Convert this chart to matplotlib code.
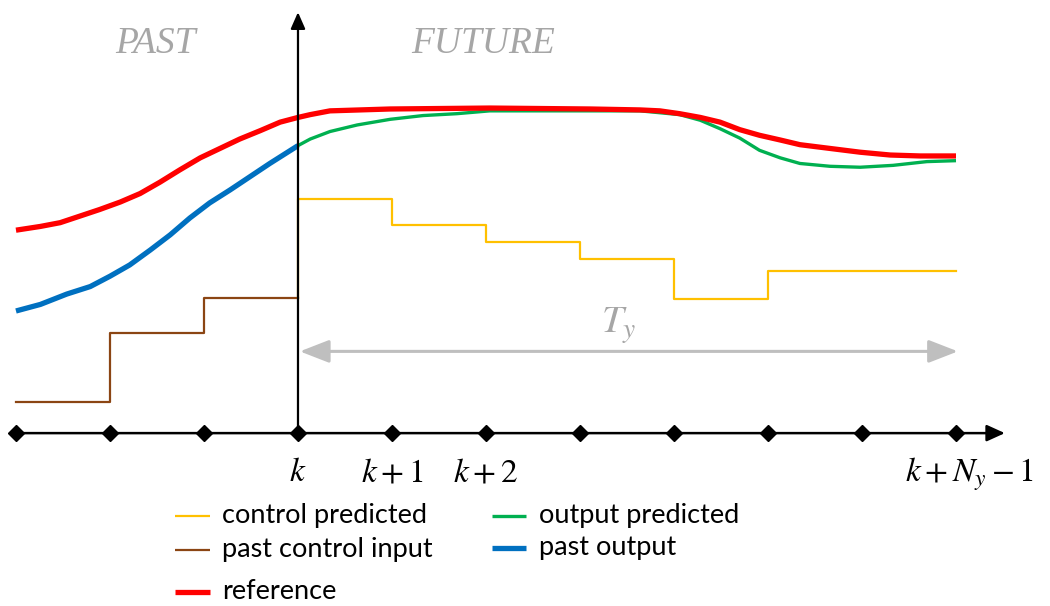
import numpy as np
import matplotlib.pyplot as plt
from matplotlib.patches import FancyArrowPatch

plt.rcParams['mathtext.fontset'] = 'stix'

# time axis in sample steps, k = 0
steps = np.arange(-3, 8)

# reference trajectory
ref_t = [-3.00, -2.74, -2.53, -2.32, -2.11, -1.89, -1.68, -1.47, -1.26, -1.04, -0.83,
         -0.62, -0.40, -0.19, 0.00, 0.13, 0.34, 0.66, 0.98, 2.04, 3.11, 3.64, 3.85,
         4.06, 4.28, 4.49, 4.70, 4.91, 5.13, 5.34, 5.66, 5.98, 6.30, 6.62, 7.00]
ref_y = [2.16, 2.20, 2.24, 2.31, 2.38, 2.46, 2.55, 2.67, 2.80, 2.93, 3.03,
         3.13, 3.22, 3.31, 3.36, 3.39, 3.43, 3.44, 3.45, 3.46, 3.45, 3.44, 3.43,
         3.40, 3.36, 3.31, 3.23, 3.17, 3.12, 3.07, 3.03, 2.99, 2.96, 2.95, 2.95]

# measured output up to k
past_t = [-3.00, -2.74, -2.46, -2.21, -2.00, -1.79, -1.57, -1.36, -1.15, -0.94,
          -0.72, -0.51, -0.30, 0.00]
past_y = [1.30, 1.37, 1.48, 1.56, 1.67, 1.79, 1.95, 2.11, 2.29, 2.45,
          2.59, 2.73, 2.87, 3.06]

# predicted output over the horizon
pred_t = [0.00, 0.13, 0.34, 0.63, 0.98, 1.33, 1.69, 2.04, 3.11, 3.64, 3.85, 4.06,
          4.28, 4.49, 4.70, 4.91, 5.13, 5.34, 5.66, 5.98, 6.33, 6.69, 7.00]
pred_y = [3.06, 3.13, 3.21, 3.28, 3.34, 3.38, 3.40, 3.43, 3.43, 3.43, 3.41, 3.39,
          3.33, 3.24, 3.14, 3.01, 2.93, 2.87, 2.84, 2.83, 2.85, 2.89, 2.90]

# piecewise constant inputs
past_u = [0.33, 1.07, 1.44]                          # k-3 .. k-1
pred_u = [2.49, 2.21, 2.03, 1.85, 1.43, 1.73, 1.73]  # k .. k+6

tick_pos = [0, 1, 2, 7.14]
tick_lbl = [r'$k$', r'$k+1$', r'$k+2$', r'$k+N_y-1$']

c_ref = '#ff0000'
c_past = '#0070c0'
c_pred = '#00b050'
c_u = '#ffc000'
c_upast = '#8b4513'
c_gray = '#a6a6a6'

fig = plt.figure(figsize=(10.5, 6.06), dpi=100)
ax = fig.add_axes([0, 0, 1, 1])
ax.set_xlim(-3.17, 8.0)
ax.set_ylim(-1.84, 4.61)
ax.axis('off')

line_kw = dict(solid_capstyle='butt', solid_joinstyle='round')

# inputs
ax.step(np.arange(-3, 1), past_u + [past_u[-1]], where='post', color=c_upast, lw=1.6, zorder=3)
ax.step([0] + list(np.arange(0, 8)), [past_u[-1]] + pred_u + [pred_u[-1]],
        where='post', color=c_u, lw=1.6, zorder=3)

# outputs
ax.plot(pred_t, pred_y, color=c_pred, lw=2.4, zorder=4, **line_kw)
ax.plot(past_t, past_y, color=c_past, lw=3.8, zorder=5, **line_kw)
ax.plot(ref_t, ref_y, color=c_ref, lw=3.8, zorder=6, **line_kw)

# time axis with sample diamonds
ax.add_patch(FancyArrowPatch((-3.0, 0), (7.52, 0), arrowstyle='-|>,head_length=0.55,head_width=0.25',
                             mutation_scale=20, lw=1.8, color='black', shrinkA=0, shrinkB=0, zorder=7))
ax.plot(steps, np.zeros_like(steps), 'D', color='black', ms=8, zorder=8)

# vertical axis at k
ax.add_patch(FancyArrowPatch((0, 0), (0, 4.48), arrowstyle='-|>,head_length=0.5,head_width=0.22',
                             mutation_scale=20, lw=1.6, color='black', shrinkA=0, shrinkB=0, zorder=7))

# prediction horizon
ax.add_patch(FancyArrowPatch((0.02, 0.87), (7.02, 0.87),
                             arrowstyle='<|-|>,head_length=0.9,head_width=0.35',
                             mutation_scale=20, lw=2.2, color='#bfbfbf', shrinkA=0, shrinkB=0, zorder=2))
ax.text(3.22, 1.07, r'$T_y$', color=c_gray, fontsize=28, ha='left', va='baseline')

ax.text(-1.52, 4.05, 'PAST', family='Liberation Serif', style='italic', color=c_gray,
        fontsize=27, ha='center', va='baseline')
ax.text(1.97, 4.05, 'FUTURE', family='Liberation Serif', style='italic', color=c_gray,
        fontsize=27, ha='center', va='baseline')

for x, s in zip(tick_pos, tick_lbl):
    ax.text(x, -0.51, s, fontsize=24, ha='center', va='baseline')

# legend drawn by hand, two columns
legend_items = [
    ('control predicted', c_u, 1.6, -1.31, -0.88),
    ('past control input', c_upast, 1.6, -1.31, -1.24),
    ('reference', c_ref, 3.8, -1.31, -1.69),
    ('output predicted', c_pred, 2.4, 2.06, -0.88),
    ('past output', c_past, 3.8, 2.06, -1.22),
]
for label, col, lw, x0, y0 in legend_items:
    ax.plot([x0, x0 + 0.37], [y0, y0], color=col, lw=lw, solid_capstyle='butt')
    ax.text(x0 + 0.5, y0, label, family='Lato', fontsize=19.5, ha='left', va='center')

fig.savefig('out.png', dpi=100)
